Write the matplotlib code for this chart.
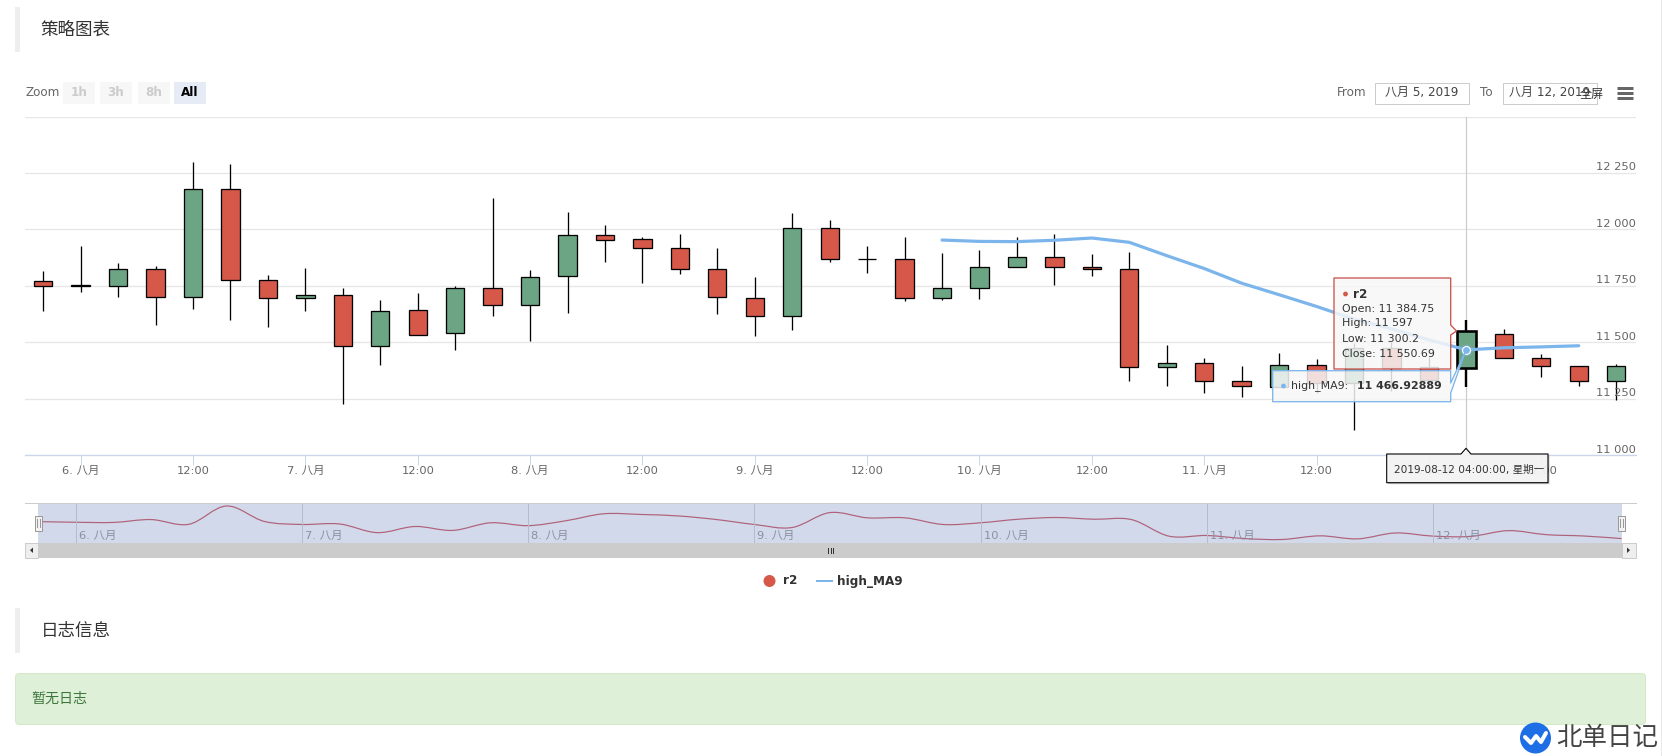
import matplotlib
matplotlib.use('Agg')
import matplotlib.pyplot as plt
from matplotlib.patches import Rectangle, FancyBboxPatch, Polygon, Circle, PathPatch
from matplotlib.path import Path

# candles, 4h apart, first one 5 Aug 20:00
opens = [11771, 11754, 11749, 11824, 11700, 12179, 11776, 11696, 11709, 11483, 11643,
         11541, 11740, 11665, 11793, 11975, 11957, 11918, 11824, 11696, 11616, 12006,
         11869, 11869, 11696, 11740, 11833, 11878, 11833, 11824, 11390, 11408, 11328,
         11304, 11399, 11320, 11474, 11392, 11384.75, 11535, 11430, 11395, 11328]
highs = [11816, 11926, 11851, 11838, 12299, 12291, 11798, 11829, 11740, 11687, 11718,
         11749, 12139, 11820, 12077, 12020, 11966, 11980, 11918, 11789, 12073, 12042,
         11926, 11966, 11895, 11909, 11966, 11980, 11891, 11900, 11488, 11430, 11395,
         11452, 11426, 11496, 11500, 11437, 11597, 11558, 11450, 11395, 11405]
lows = [11641, 11721, 11699, 11579, 11646, 11601, 11570, 11641, 11225, 11402, 11532,
        11468, 11615, 11504, 11632, 11854, 11761, 11801, 11624, 11530, 11553, 11858,
        11805, 11681, 11686, 11690, 11833, 11752, 11796, 11331, 11309, 11278, 11260,
        11304, 11278, 11114, 11285, 11300, 11300.2, 11429, 11346, 11309, 11245]
closes = [11749, 11749, 11824, 11700, 12179, 11776, 11696, 11709, 11483, 11638, 11532,
          11740, 11665, 11789, 11975, 11953, 11918, 11824, 11700, 11616, 12006, 11869,
          11869, 11696, 11740, 11833, 11878, 11833, 11824, 11390, 11408, 11328, 11306,
          11399, 11320, 11474, 11386, 11335, 11550.69, 11429, 11395, 11328, 11395]

ma_index = list(range(24, 42))
ma_values = [11953, 11947, 11946, 11952, 11962, 11943, 11884, 11827, 11762, 11711, 11659,
             11603, 11560, 11511, 11466.93, 11476, 11480, 11485]

tick_index = [1, 4, 7, 10, 13, 16, 19, 22, 25, 28, 31, 34, 37, 40]
tick_labels = ['6. 八月', '12:00', '7. 八月', '12:00', '8. 八月', '12:00', '9. 八月', '12:00',
               '10. 八月', '12:00', '11. 八月', '12:00', '12. 八月', '12:00']
nav_index = [1, 7, 13, 19, 25, 31, 37]
nav_labels = ['6. 八月', '7. 八月', '8. 八月', '9. 八月', '10. 八月', '11. 八月', '12. 八月']
y_ticks = [11000, 11250, 11500, 11750, 12000, 12250, 12500]
y_labels = ['11 000', '11 250', '11 500', '11 750', '12 000', '12 250', '']
hover = 38

UP = '#6ba583'
DOWN = '#d55849'
BLUE = '#7cb5ec'
W, H = 1662, 756

plt.rcParams['font.family'] = ['DejaVu Sans', 'Noto Sans CJK SC']


def px(v):
    return v * 0.72


def px_axes(fig, left, top, right, bottom, **kw):
    return fig.add_axes([left / W, 1 - bottom / H, (right - left) / W, (bottom - top) / H], **kw)


def smooth_path(xs, ys):
    # catmull-rom as bezier segments, the navigator line is a spline
    verts = [(xs[0], ys[0])]
    codes = [Path.MOVETO]
    n = len(xs)
    for i in range(n - 1):
        a, b = max(i - 1, 0), min(i + 2, n - 1)
        verts.append((xs[i] + (xs[i + 1] - xs[a]) / 6, ys[i] + (ys[i + 1] - ys[a]) / 6))
        verts.append((xs[i + 1] - (xs[b] - xs[i]) / 6, ys[i + 1] - (ys[b] - ys[i]) / 6))
        verts.append((xs[i + 1], ys[i + 1]))
        codes += [Path.CURVE4] * 3
    return Path(verts, codes)


fig = plt.figure(figsize=(16.62, 7.56), dpi=100)

# main chart
ax = px_axes(fig, 25, 116.5, 1636, 455.3)
ax.set_xlim(-0.486, 42.53)
ax.set_ylim(11000, 12500)
for s in ['top', 'left', 'right']:
    ax.spines[s].set_visible(False)
ax.spines['bottom'].set_color('#ccd6eb')
ax.spines['bottom'].set_linewidth(px(1.3))
ax.set_axisbelow(True)
ax.set_yticks(y_ticks)
ax.set_yticklabels([])
ax.tick_params(axis='y', length=0)
ax.grid(axis='y', color='#e6e6e6', lw=px(1.3))
ax.set_xticks(tick_index)
ax.set_xticklabels(tick_labels, fontsize=px(11.5), color='#666666')
ax.tick_params(axis='x', length=px(10), width=px(1), color='#ccd6eb', pad=px(1))

for y, label in zip(y_ticks, y_labels):
    ax.annotate(label, (1, y), xycoords=ax.get_yaxis_transform(), xytext=(0, px(0.5)),
                textcoords='offset points', ha='right', va='bottom',
                fontsize=px(11.5), color='#666666')

ax.axvline(hover, color='#cccccc', lw=px(1.2), zorder=1.5)

for i in range(len(opens)):
    lw = px(2.4) if i == hover else px(1.3)
    ax.vlines(i, lows[i], highs[i], color='black', lw=lw, zorder=2)
    bottom = min(opens[i], closes[i])
    height = abs(opens[i] - closes[i])
    color = UP if closes[i] > opens[i] else DOWN
    ax.bar(i, height, bottom=bottom, width=0.49, color=color, edgecolor='black',
           lw=px(2.6) if i == hover else px(1.3), zorder=3)

ax.plot(ma_index, ma_values, color=BLUE, lw=px(3.2), zorder=4, solid_capstyle='round')
ax.plot([hover], [ma_values[ma_index.index(hover)]], 'o', ms=px(13), mfc=BLUE, mew=0, alpha=0.25, zorder=5)
ax.plot([hover], [ma_values[ma_index.index(hover)]], 'o', ms=px(8), mfc=BLUE, mec='white', mew=px(1.2), zorder=5)

# navigator
nav = px_axes(fig, 38, 503.3, 1621.5, 543)
nav.set_xlim(0, 42)
nav.set_ylim(11212, 12249)
nav.set_facecolor('#d1d9eb')
nav.set_xticks([])
nav.set_yticks([])
for s in nav.spines.values():
    s.set_visible(False)
for i, label in zip(nav_index, nav_labels):
    nav.axvline(i, color='#b4bccd', lw=px(1))
    nav.annotate(label, (i, 0), xycoords=nav.get_xaxis_transform(), xytext=(px(3), px(2)),
                 textcoords='offset points', ha='left', va='bottom',
                 fontsize=px(11.5), color='#8a90a0')
nav.add_patch(PathPatch(smooth_path(list(range(len(opens))), opens), fc='none', ec='#b0627a', lw=px(1.2)))

# page parts and tooltips, in pixel coordinates
ov = fig.add_axes([0, 0, 1, 1], zorder=5)
ov.set_xlim(0, W)
ov.set_ylim(H, 0)
ov.axis('off')
ov.patch.set_alpha(0)

DARK = '#333333'
ov.add_patch(Rectangle((15, 7.3), 5, 44.4, fc='#eeeeee', ec='none'))
ov.text(40, 30, '策略图表', fontsize=px(17.5), color=DARK, va='center')
ov.add_patch(Rectangle((15, 608), 5, 45, fc='#eeeeee', ec='none'))
ov.text(40.5, 630.5, '日志信息', fontsize=px(17.5), color=DARK, va='center')

ov.add_patch(FancyBboxPatch((15.5, 673.5), 1630, 51, boxstyle='round,pad=0,rounding_size=4',
                            fc='#dff0d8', ec='#d6e9c6', lw=px(1)))
ov.text(31.5, 699, '暂无日志', fontsize=px(14), color='#3c763d', va='center')

ov.text(25, 92.5, 'Zoom', fontsize=px(12), color='#666666', va='center')
for left, label in zip([63, 100, 137.5], ['1h', '3h', '8h']):
    ov.add_patch(Rectangle((left, 82), 32, 22, fc='#f7f7f7', ec='none'))
    ov.text(left + 16, 92, label, fontsize=px(12), color='#cccccc', ha='center', va='center', weight='bold')
ov.add_patch(Rectangle((174, 82), 32, 22, fc='#e6ebf5', ec='none'))
ov.text(190, 92, 'All', fontsize=px(12), color='#000000', ha='center', va='center', weight='bold')

ov.text(1337, 92, 'From', fontsize=px(12), color='#666666', va='center')
ov.add_patch(Rectangle((1374.5, 82.5), 94, 21, fc='white', ec='#cccccc', lw=px(1)))
ov.text(1421.5, 92, '八月 5, 2019', fontsize=px(12), color='#444444', ha='center', va='center')
ov.text(1480, 92, 'To', fontsize=px(12), color='#666666', va='center')
ov.add_patch(Rectangle((1502.5, 82.5), 94, 21, fc='white', ec='#cccccc', lw=px(1)))
ov.text(1549.5, 92, '八月 12, 2019', fontsize=px(12), color='#444444', ha='center', va='center')
ov.text(1592, 94, '全屏', fontsize=px(12), color='#333333', ha='center', va='center', style='italic')
for y in [88, 93, 98]:
    ov.plot([1617, 1633], [y, y], color='#666666', lw=px(3), solid_capstyle='butt')
ov.plot([1661, 1661], [0, 756], color='#e8e8e8', lw=px(1))

# navigator chrome
ov.plot([25, 1636], [503, 503], color='#cccccc', lw=px(1))
ov.add_patch(Rectangle((24.5, 543), 1611.5, 14.7, fc='#cccccc', ec='none'))
ov.add_patch(Rectangle((24.5, 543), 13.5, 14.7, fc='#eeeeee', ec='#cccccc', lw=px(1)))
ov.add_patch(Rectangle((1621.5, 543), 14, 14.7, fc='#eeeeee', ec='#cccccc', lw=px(1)))
ov.add_patch(Polygon([(33, 547.5), (33, 553), (30, 550.2)], fc='#333333', ec='none'))
ov.add_patch(Polygon([(1627, 547.5), (1627, 553), (1630, 550.2)], fc='#333333', ec='none'))
for x in [828, 830.5, 833]:
    ov.plot([x, x], [547.5, 553], color='#333333', lw=px(1))
for x in [38.3, 1621.5]:
    ov.add_patch(Rectangle((x - 3.8, 515.5), 7.6, 15, fc='#f2f2f2', ec='#999999', lw=px(1)))
    ov.plot([x - 1.2, x - 1.2], [519, 527], color='#999999', lw=px(1))
    ov.plot([x + 1.2, x + 1.2], [519, 527], color='#999999', lw=px(1))

# legend
ov.add_patch(Circle((769.5, 581), 6, fc=DOWN, ec='none'))
ov.text(783, 581, 'r2', fontsize=px(12), color=DARK, va='center', weight='bold')
ov.plot([817, 832], [581, 581], color=BLUE, lw=px(2))
ov.text(837, 581, 'high_MA9', fontsize=px(12), color=DARK, va='center', weight='bold')

# r2 tooltip
r2_tip = [(1334, 278), (1450.7, 278), (1450.7, 325), (1456.5, 331), (1450.7, 335),
          (1450.7, 369), (1334, 369)]
ov.add_patch(Polygon(r2_tip, closed=True, fc='#f7f7f7', ec='none', alpha=0.85))
ov.add_patch(Polygon(r2_tip, closed=True, fc='none', ec='#c9524a', lw=px(1.3), joinstyle='round'))
ov.add_patch(Circle((1345.5, 294), 2.4, fc=DOWN, ec='none'))
ov.text(1353, 294, 'r2', fontsize=px(12), color=DARK, va='center', weight='bold')
tip_lines = ['Open: 11 384.75', 'High: 11 597', 'Low: 11 300.2', 'Close: 11 550.69']
for y, line in zip([308.5, 323.5, 338.7, 353.7], tip_lines):
    ov.text(1342, y, line, fontsize=px(11), color=DARK, va='center')

# high_MA9 tooltip
ma_tip = [(1272.7, 370.7), (1450.7, 370.7), (1450.7, 383), (1466, 350), (1450.7, 393),
          (1450.7, 401.7), (1272.7, 401.7)]
ov.add_patch(Polygon(ma_tip, closed=True, fc='#f7f7f7', ec='none', alpha=0.85))
ov.add_patch(Polygon(ma_tip, closed=True, fc='none', ec=BLUE, lw=px(1.3), joinstyle='round'))
ov.add_patch(Circle((1283.5, 386), 2.4, fc=BLUE, ec='none'))
ov.text(1291.5, 386, 'high_MA9:', fontsize=px(11), color=DARK, va='center')
ov.text(1357, 386, '11 466.92889', fontsize=px(11), color=DARK, va='center', weight='bold')

# date tooltip
date_tip = [(1386.7, 454), (1461, 454), (1466, 448.3), (1471, 454), (1548, 454), (1548, 482.7), (1386.7, 482.7)]
ov.add_patch(Polygon([(x + 1.5, y + 1.5) for x, y in date_tip], closed=True, fc='#999999', ec='none', alpha=0.5))
ov.add_patch(Polygon(date_tip, closed=True, fc='#f9f9f9', ec='none', alpha=0.88))
ov.add_patch(Polygon(date_tip, closed=True, fc='none', ec='black', lw=px(1.1), joinstyle='round'))
ov.text(1394, 469.5, '2019-08-12 04:00:00, 星期一', fontsize=px(10.5), color=DARK, va='center')

# watermark
ov.add_patch(Circle((1535.5, 738), 15.5, fc='#1e6fe6', ec='none'))
ov.plot([1525, 1531, 1536, 1541, 1546], [737, 743, 736, 742, 733], color='white', lw=px(4),
        solid_capstyle='round', solid_joinstyle='round')
ov.text(1556, 738, '北单日记', fontsize=px(25.5), color='#444444', va='center')

fig.savefig('out.png', dpi=100)
